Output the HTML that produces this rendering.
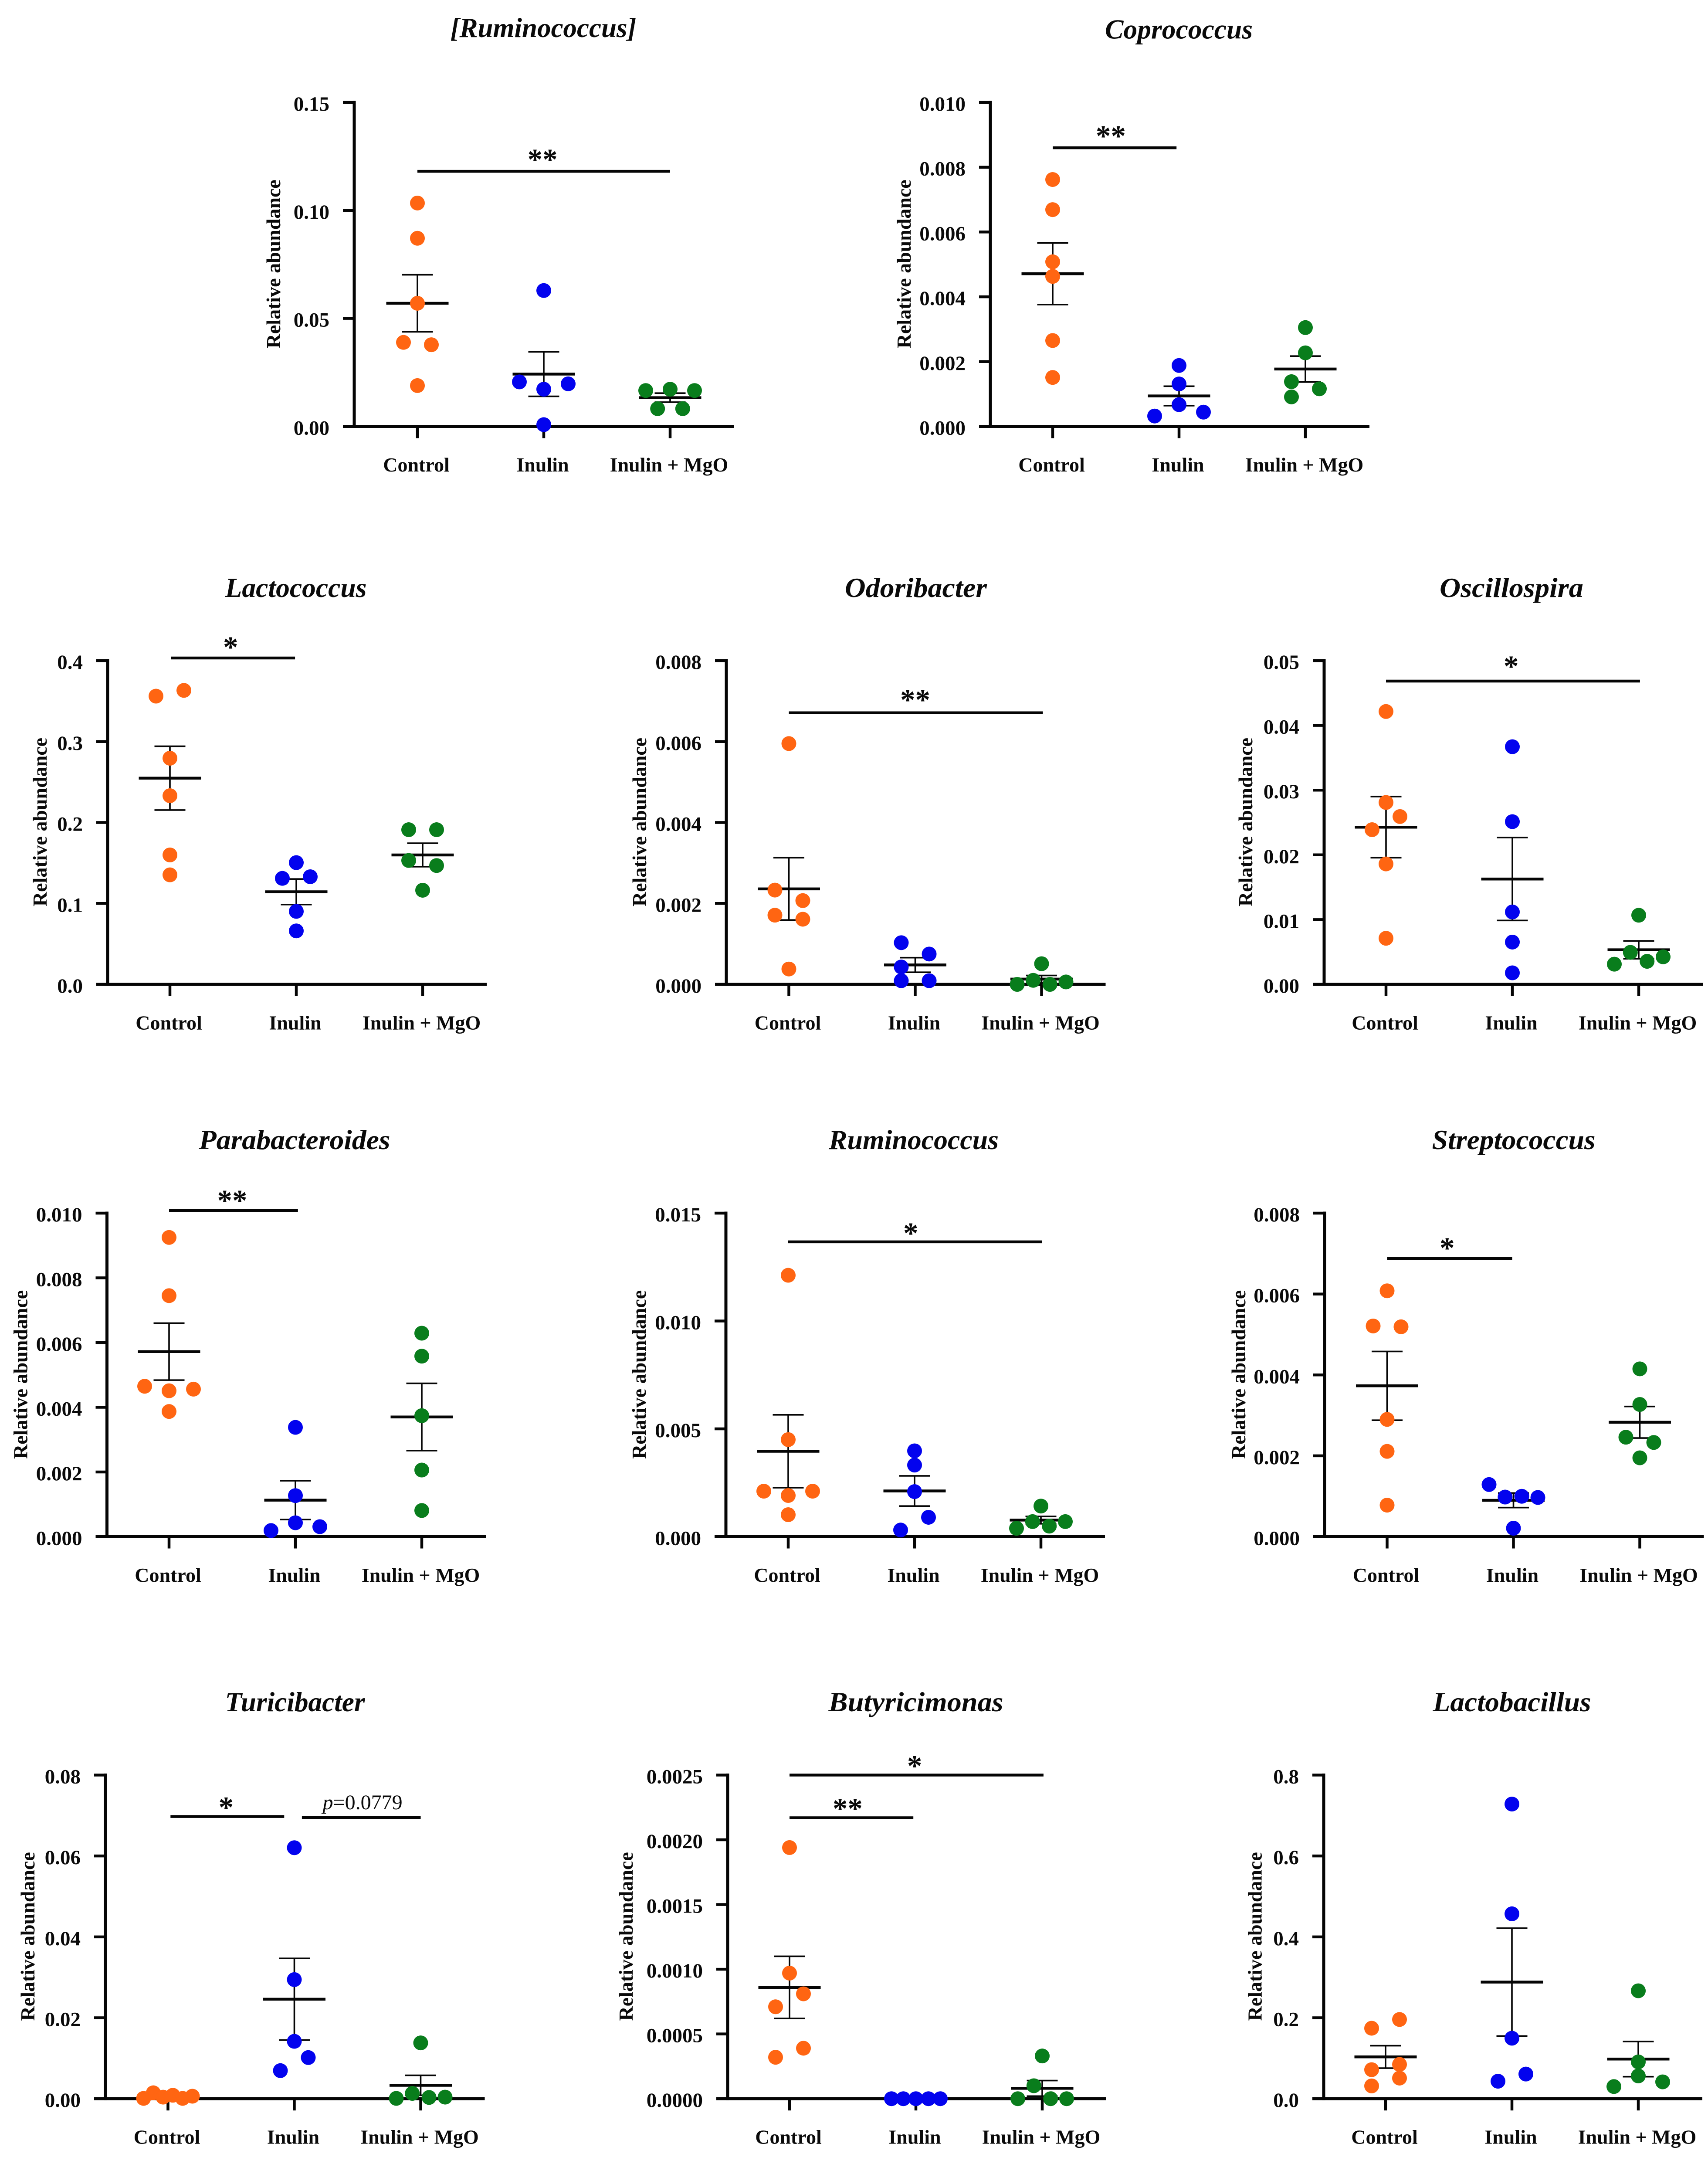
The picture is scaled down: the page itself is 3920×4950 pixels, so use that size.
<!DOCTYPE html>
<html lang="en">
<head>
<meta charset="utf-8">
<title>Relative abundance by genus</title>
<style>
html,body{margin:0;padding:0;background:#fff}
svg{display:block}
text{font-family:"Liberation Serif",serif;fill:#0a0a0a}
.tick{font-size:47px;font-weight:700;text-anchor:end}
.cat{font-size:46px;font-weight:700;text-anchor:middle}
.ylab{font-size:46px;font-weight:700;text-anchor:middle}
.title{font-size:63px;font-weight:700;font-style:italic;text-anchor:middle}
.star{font-size:69px;font-weight:700;text-anchor:middle}
.pval{font-size:48px;font-weight:400;text-anchor:middle}
</style>
</head>
<body>
<svg id="figure" xmlns="http://www.w3.org/2000/svg" width="3920" height="4950" viewBox="0 0 3920 4950"></svg>
<script>
/* ---------- data ---------- */
const groupNames = ["Control", "Inulin", "Inulin + MgO"];
const genera = ["[Ruminococcus]", "Coprococcus", "Lactococcus", "Odoribacter", "Oscillospira", "Parabacteroides", "Ruminococcus", "Streptococcus", "Turicibacter", "Butyricimonas", "Lactobacillus"];

const yTickLabels = [
  ["0.00", "0.05", "0.10", "0.15"],
  ["0.000", "0.002", "0.004", "0.006", "0.008", "0.010"],
  ["0.0", "0.1", "0.2", "0.3", "0.4"],
  ["0.000", "0.002", "0.004", "0.006", "0.008"],
  ["0.00", "0.01", "0.02", "0.03", "0.04", "0.05"],
  ["0.000", "0.002", "0.004", "0.006", "0.008", "0.010"],
  ["0.000", "0.005", "0.010", "0.015"],
  ["0.000", "0.002", "0.004", "0.006", "0.008"],
  ["0.00", "0.02", "0.04", "0.06", "0.08"],
  ["0.0000", "0.0005", "0.0010", "0.0015", "0.0020", "0.0025"],
  ["0.0", "0.2", "0.4", "0.6", "0.8"]
];

const controlValues = [
  [0.1034, 0.0871, 0.0570, 0.0389, 0.0378, 0.0189],
  [0.00762, 0.00669, 0.00508, 0.00463, 0.00265, 0.00151],
  [0.3561, 0.3632, 0.2794, 0.2331, 0.1599, 0.1353],
  [0.00595, 0.00233, 0.00207, 0.00171, 0.00161, 0.00038],
  [0.04214, 0.02809, 0.02592, 0.02389, 0.0186, 0.00712],
  [0.00925, 0.00745, 0.00465, 0.00451, 0.00456, 0.00387],
  [0.01212, 0.0045, 0.00211, 0.00191, 0.00211, 0.00102],
  [0.00608, 0.00521, 0.00519, 0.0029, 0.00211, 0.00078],
  [0.00008, 0.00146, 0.00039, 0.00085, 0.00008, 0.00062],
  [0.00194, 0.00097, 0.00081, 0.00071, 0.00039, 0.00032],
  [0.1742, 0.1958, 0.0717, 0.0848, 0.0316, 0.0509]
];
const inulinValues = [
  [0.0629, 0.0206, 0.0197, 0.0172, 0.0008],
  [0.00188, 0.00131, 0.00067, 0.00032, 0.00044],
  [0.1504, 0.1310, 0.1330, 0.0902, 0.0661],
  [0.00103, 0.00075, 0.00043, 0.00009, 0.00009],
  [0.0367, 0.02513, 0.01118, 0.00653, 0.00178],
  [0.00338, 0.00127, 0.00043, 0.00019, 0.00031],
  [0.00398, 0.00332, 0.00209, 0.0009, 0.00031],
  [0.00129, 0.00098, 0.001, 0.00097, 0.00021],
  [0.06204, 0.02944, 0.01418, 0.00694, 0.01017],
  [0, 0, 0, 0, 0],
  [0.7283, 0.457, 0.1495, 0.0432, 0.0609]
];
const mgoValues = [
  [0.0166, 0.0172, 0.0166, 0.0082, 0.0082],
  [0.00305, 0.00227, 0.00138, 0.00116, 0.00091],
  [0.1911, 0.1911, 0.1531, 0.1468, 0.1163],
  [0.00051, 0, 0.0001, 0, 0.00006],
  [0.01068, 0.00495, 0.00356, 0.00312, 0.00425],
  [0.00629, 0.00558, 0.00374, 0.00206, 0.00081],
  [0.00142, 0.0007, 0.00049, 0.00039, 0.0007],
  [0.00415, 0.00327, 0.00246, 0.00233, 0.00195],
  [0.0138, 0.00008, 0.00131, 0.00031, 0.00039],
  [0.00033, 0.0001, 0, 0, 0],
  [0.2667, 0.0909, 0.0563, 0.03, 0.0416]
];

/* swarm slot of each point, in dot diameters from the group centre */
const controlSwarm = [
  [0,0,0,-1,1,0],[0,0,0,0,0,0],[-1,1,0,0,0,0],[0,-1,1,-1,1,0],[0,0,1,-1,0,0],
  [0,0,-1.75,0,1.75,0],[0,0,-1.75,0,1.75,0],[0,-1,1,0,0,0],
  [-1.75,-1.05,-0.35,0.35,1.05,1.75],[0,0,1,-1,1,-1],[-1,1,-1,1,-1,1]
];
const inulinSwarm = [
  [0,-1.75,1.75,0,0],[0,0,0,-1.75,1.75],[0,-1,1,0,0],[-1,1,-1,-1,1],[0,0,0,0,0],
  [0,0,0,-1.75,1.75],[0,0,0,1,-1],[-1.75,-0.6,0.6,1.75,0],
  [0,0,0,-1,1],[-1.75,-0.9,0,0.9,1.75],[0,0,0,-1,1]
];
const mgoSwarm = [
  [-1.75,0,1.75,-0.9,0.9],[0,0,-1,1,-1],[-1,1,-1,1,0],[0,-1.75,-0.6,0.6,1.75],[0,-0.6,0.6,-1.75,1.75],
  [0,0,0,0,0],[0,-0.6,0.6,-1.75,1.75],[0,0,-1,1,0],
  [0,-1.75,-0.6,0.6,1.75],[0,-0.6,-1.75,0.6,1.75],[0,0,0,-1.75,1.75]
];

const controlMeans = [0.0570, 0.00471, 0.2548, 0.00236, 0.02428, 0.00572, 0.00396, 0.00373, 0.00058, 0.00086, 0.1033];
const inulinMeans  = [0.0242, 0.00094, 0.1144, 0.00048, 0.01627, 0.00113, 0.00212, 0.0009, 0.02459, 0, 0.2882];
const mgoMeans     = [0.0133, 0.00177, 0.1599, 0.00013, 0.00534, 0.0037, 0.00077, 0.00283, 0.00331, 0.00008, 0.0979];

const controlSems = [0.0132, 0.00095, 0.0394, 0.00077, 0.00472, 0.00088, 0.00169, 0.00085, 0.0002, 0.00024, 0.0277];
const inulinSems  = [0.0103, 0.0003, 0.0158, 0.00018, 0.0064, 0.0006, 0.0007, 0.00018, 0.0101, 0, 0.1333];
const mgoSems     = [0.0021, 0.0004, 0.0145, 0.00009, 0.00138, 0.00104, 0.00017, 0.00039, 0.00247, 0.00006, 0.0435];

/* significance brackets: panel, start and end in category units, level, label */
const bracketPanels = [0, 1, 2, 3, 4, 5, 6, 7, 8, 8, 9, 9];
const bracketStarts = [0, 0, 0.01, 0, 0, 0, 0, 0, 0.02, 1.06, 0, 0];
const bracketEnds   = [2, 0.98, 0.99, 2.01, 2.01, 1.02, 2.01, 0.99, 0.92, 2, 2.01, 0.98];
const bracketLevels = [0.1181, 0.0086, 0.4032, 0.00671, 0.04684, 0.01008, 0.01367, 0.00688, 0.06975, 0.06952, 0.0025, 0.00217];
const bracketLabels = ["**", "**", "*", "**", "*", "**", "*", "*", "*", "p=0.0779", "*", "**"];
const bracketLabelAt = [0.99, 0.46, 0.48, 1.0, 0.99, 0.5, 0.97, 0.475, 0.46, 1.54, 0.99, 0.46];

/* ---------- layout (not data) ---------- */
const frameAxisX = [813, 2273, 247, 1667, 3039, 245.5, 1666, 3040, 242, 1670, 3038];
const frameFirstCat = [958, 2416, 390, 1810.5, 3181, 388, 1809, 3183.5, 385.5, 1812, 3180];
const frameTop = [235, 235, 1516, 1516, 1516, 2784, 2784, 2784, 4073.5, 4073.5, 4073.5];
const frameZero = [978.5, 978.5, 2259, 2259, 2259, 3526.5, 3526.5, 3526.5, 4816.2, 4816.2, 4816.2];
const frameYLabelGap = [170, 183, 140, 184, 165, 183, 184, 182, 163, 218, 142.5];
const titleX = [1247, 2705.6, 679, 2102, 3469, 676, 2097, 3474, 677, 2102, 3470];
const titleBase = [85, 88.5, 1370, 1370, 1370, 2637, 2637, 2637, 3927, 3927, 3927];
const titleWidth = [427, 339, 325, 326, 330, 439, 390, 375, 321, 401, 363];
const labelRaise = [35, 35, 33, 37.6, 42, 31, 28, 32, 29, 35, 29, 29];
const groupColors = ["#ff6512", "#0303ee", "#097d1c"];
const CAT_STEP = 290, DOT_D = 32, DOT_R = 17, AXIS_W = 7, INK = "#050505";

const SVGNS = "http://www.w3.org/2000/svg";
const figure = document.getElementById("figure");

function mk(tag, attrs, parent) {
  const el = document.createElementNS(SVGNS, tag);
  for (const k in attrs) el.setAttribute(k, attrs[k]);
  parent.appendChild(el);
  return el;
}
function slug(s) {
  return s.toLowerCase().replace(/[^a-z0-9]+/g, "-").replace(/^-|-$/g, "");
}
function yMaxOf(p) {
  const t = yTickLabels[p];
  return parseFloat(t[t.length - 1]);
}
function yScale(p, v) {
  return frameZero[p] - (v / yMaxOf(p)) * (frameZero[p] - frameTop[p]);
}
function xScale(p, c) {
  return frameFirstCat[p] + c * CAT_STEP;
}
function drawLine(parent, x1, y1, x2, y2, w, color) {
  return mk("line", { x1: x1, y1: y1, x2: x2, y2: y2, stroke: color || INK, "stroke-width": w }, parent);
}

function drawPanel(p) {
  const g = mk("g", {}, figure);
  
  

  const title = mk("text", { class: "title", x: titleX[p], y: titleBase[p], textLength: titleWidth[p], lengthAdjust: "spacingAndGlyphs" }, g);
  title.textContent = genera[p];
  
  

  const ax = frameAxisX[p], top = frameTop[p], zero = frameZero[p];
  const right = xScale(p, 2) + 147;

  const yAxis = drawLine(g, ax, top - AXIS_W / 2, ax, zero + AXIS_W / 2, AXIS_W);
  
  

  const xAxis = drawLine(g, ax - 26, zero, right, zero, AXIS_W);
  
  

  yTickLabels[p].forEach(function (lab) {
    const ty = yScale(p, parseFloat(lab));
    const tick = drawLine(g, ax - 26, ty, ax, ty, 6.5);
    
    
    const t = mk("text", { class: "tick", x: ax - 57, y: ty + 19 }, g);
    t.textContent = lab;
    
    
  });

  const yl = frameYLabelGap[p];
  const midY = (top + zero) / 2 - 1;
  const ylab = mk("text", { class: "ylab", transform: "translate(" + (ax - yl) + " " + midY + ") rotate(-90)" }, g);
  ylab.textContent = "Relative abundance";
  
  

  groupNames.forEach(function (name, c) {
    const cx = xScale(p, c);
    const tick = drawLine(g, cx, zero, cx, zero + 27, 6.5);
    
    
    const t = mk("text", { class: "cat", x: cx - 2.5, y: zero + 103.5 }, g);
    t.textContent = name;
    
    
  });

  const seriesValues = [controlValues[p], inulinValues[p], mgoValues[p]];
  const seriesSwarm = [controlSwarm[p], inulinSwarm[p], mgoSwarm[p]];
  const seriesMean = [controlMeans[p], inulinMeans[p], mgoMeans[p]];
  const seriesSem = [controlSems[p], inulinSems[p], mgoSems[p]];

  seriesValues.forEach(function (vals, c) {
    const cx = xScale(p, c);
    const sg = mk("g", {}, g);
    
    

    const yUp = yScale(p, seriesMean[c] + seriesSem[c]);
    const yLow = yScale(p, seriesMean[c] - seriesSem[c]);
    const yMean = yScale(p, seriesMean[c]);

    const stem = drawLine(sg, cx, yUp, cx, yLow, 3.6);
    
    
    const capU = drawLine(sg, cx - 35.5, yUp, cx + 35.5, yUp, 3.6);
    
    
    const capL = drawLine(sg, cx - 35.5, yLow, cx + 35.5, yLow, 3.6);
    
    
    const mean = drawLine(sg, cx - 71.5, yMean, cx + 71.5, yMean, 6.5);
    
    

    vals.forEach(function (v, i) {
      const dot = mk("circle", { cx: cx + seriesSwarm[c][i] * DOT_D, cy: yScale(p, v), r: DOT_R, fill: groupColors[c] }, sg);
      
      
    });
  });
}

function drawBracket(i) {
  const p = bracketPanels[i];
  const y = yScale(p, bracketLevels[i]);
  const line = drawLine(figure, xScale(p, bracketStarts[i]), y, xScale(p, bracketEnds[i]), y, 6.5);
  
  

  const lab = bracketLabels[i];
  const lx = xScale(p, bracketLabelAt[i]);
  const ly = y - labelRaise[i];
  if (lab.charAt(0) === "*") {
    const s = mk("text", { class: "star", x: lx, y: ly + 31 }, figure);
    s.textContent = lab;
    
    
  } else {
    const s = mk("text", { class: "pval", x: lx, y: ly + 16 }, figure);
    const pt = mk("tspan", { "font-style": "italic" }, s);
    pt.textContent = lab.charAt(0);
    const rest = mk("tspan", {}, s);
    rest.textContent = lab.slice(1);
    
    
  }
}

genera.forEach(function (_, p) { drawPanel(p); });
bracketPanels.forEach(function (_, i) { drawBracket(i); });
</script>
</body>
</html>
